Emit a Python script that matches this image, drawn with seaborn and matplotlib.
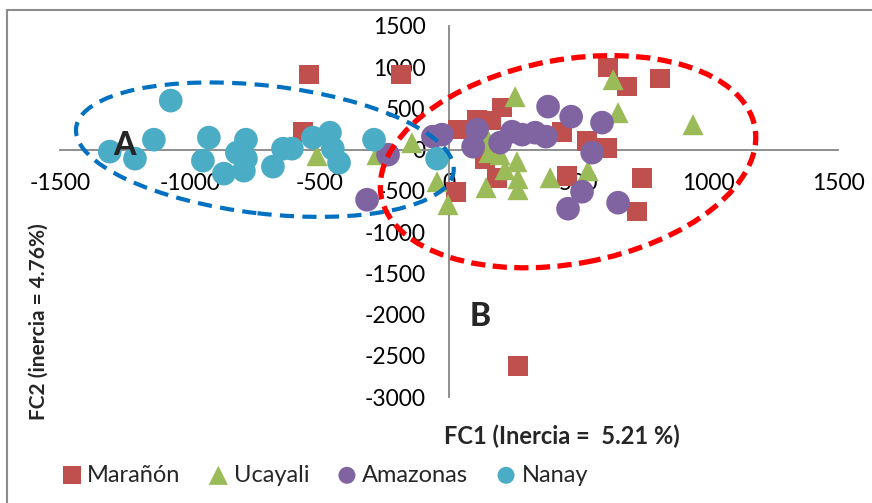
import pandas as pd
import seaborn as sns
import matplotlib.pyplot as plt
from matplotlib.patches import Ellipse
from matplotlib.lines import Line2D
from matplotlib.transforms import ScaledTranslation

# Data (FC1, FC2 scores per river)
maranon_x = [-540, -185, -563, 613, 687, 814, 204, 108, 162, 35, 436, 532, 610, 139, 185, 455, 745, 27, 725, 266]
maranon_y = [910, 910, 218, 995, 765, 862, 510, 364, 352, 243, 218, 109, 24, -121, -340, -316, -340, -510, -752, -2621]

ucayali_x = [-509, -278, -143, -46, -4, 255, 150, 154, 197, 262, 216, 266, 266, 143, 390, 536, 633, 652, 941]
ucayali_y = [-73, -61, 85, -388, -667, 643, 121, -36, -61, -146, -243, -352, -485, -461, -340, -255, 850, 449, 303]

amazonas_x = [-235, -316, -62, -27, 93, 108, 197, 243, 282, 332, 374, 382, 471, 590, 552, 513, 459, 652]
amazonas_y = [-61, -607, 158, 182, 36, 243, 85, 218, 182, 206, 158, 522, 400, 328, -36, -510, -716, -643]

nanay_x = [-1308, -1211, -1138, -1073, -926, -949, -868, -818, -783, -783, -791, -679, -640, -606, -525, -459, -448, -424, -289, -46]
nanay_y = [-24, -109, 121, 595, 146, -133, -291, -36, 121, -109, -255, -206, 12, 12, 146, 206, 12, -158, 121, -109]

rivers = ["Marañón", "Ucayali", "Amazonas", "Nanay"]
colors = {"Marañón": "#C0504D", "Ucayali": "#9BBB59", "Amazonas": "#8064A2", "Nanay": "#4BACC6"}
markers = {"Marañón": "s", "Ucayali": "^", "Amazonas": "o", "Nanay": "o"}
sizes = {"Marañón": 200, "Ucayali": 230, "Amazonas": 290, "Nanay": 290}
legend_sizes = {"Marañón": 170, "Ucayali": 190, "Amazonas": 150, "Nanay": 150}

# Long format table
df = pd.concat([
    pd.DataFrame({"FC1": maranon_x, "FC2": maranon_y, "Rio": "Marañón"}),
    pd.DataFrame({"FC1": ucayali_x, "FC2": ucayali_y, "Rio": "Ucayali"}),
    pd.DataFrame({"FC1": amazonas_x, "FC2": amazonas_y, "Rio": "Amazonas"}),
    pd.DataFrame({"FC1": nanay_x, "FC2": nanay_y, "Rio": "Nanay"}),
], ignore_index=True)

sns.set_style("white")
plt.rcParams['font.family'] = ['Lato', 'DejaVu Sans']
plt.rcParams['axes.unicode_minus'] = False

fig = plt.figure(figsize=(8.72, 5.03), dpi=100)
ax = fig.add_axes([60 / 872, 106 / 503, 778 / 872, 371 / 503])

# One scatter per river so later series sit on top
for rio in rivers:
    sub = df[df["Rio"] == rio]
    sns.scatterplot(data=sub, x="FC1", y="FC2", marker=markers[rio], s=sizes[rio],
                    color=colors[rio], edgecolor="none", linewidth=0, label=rio, ax=ax, zorder=3)

ax.set_xlim(-1500, 1500)
ax.set_ylim(-3000, 1500)
ax.set_xticks(range(-1500, 1501, 500))
ax.set_yticks(range(-3000, 1501, 500))

# Axes crossing at zero, Excel style
for side in ["top", "right"]:
    ax.spines[side].set_visible(False)
for side in ["left", "bottom"]:
    ax.spines[side].set_position("zero")
    ax.spines[side].set_color("#868686")
    ax.spines[side].set_linewidth(1.3)
ax.tick_params(direction="out", length=6, width=1.1, color="#868686", labelsize=16.5, pad=11, labelcolor="black")
ax.set_xlabel("")
ax.set_ylabel("")

# Group ellipses, sized in inches around a data centre
def add_ellipse(cx, cy, w, h, angle, color, lw, dash):
    tr = fig.dpi_scale_trans + ScaledTranslation(cx, cy, ax.transData)
    e = Ellipse((0, 0), w, h, angle=angle, fill=False, edgecolor=color,
                linewidth=lw, linestyle=(0, dash), transform=tr, zorder=5)
    ax.add_patch(e)

add_ellipse(-710, 0, 3.8, 1.28, -6.6, "#0070C0", 3.0, (3.4, 2.0))
add_ellipse(459, -146, 3.8, 2.04, 10.5, "#FF0000", 3.8, (2.7, 1.4))

fig.text(125 / 872, 1 - 146 / 503, "A", fontsize=23, fontweight="black", ha="center", va="center", zorder=6)
fig.text(480 / 872, 1 - 317 / 503, "B", fontsize=23, fontweight="black", ha="center", va="center", zorder=6)

fig.text(562 / 872, 1 - 436 / 503, "FC1 (Inercia =  5.21 %)", fontsize=17, fontweight="bold", ha="center", va="center")
fig.text(39 / 872, 1 - 322 / 503, "FC2 (inercia = 4.76%)", fontsize=15, fontweight="bold", ha="center", va="center", rotation=90)

# Legend along the bottom
leg = ax.legend(loc="center left", bbox_to_anchor=(60 / 872, 1 - 475 / 503), bbox_transform=fig.transFigure,
                ncol=4, frameon=False, fontsize=17, handletextpad=0.15, columnspacing=1.1,
                handlelength=1.0, borderaxespad=0, borderpad=0)
for handle, rio in zip(leg.legend_handles, rivers):
    handle.set_sizes([legend_sizes[rio]])

# Chart frame (top and left edges visible)
fig.add_artist(Line2D([7 / 872, 1], [1 - 10 / 503, 1 - 10 / 503], color="#8C8C8C", linewidth=1.5, transform=fig.transFigure))
fig.add_artist(Line2D([7 / 872, 7 / 872], [0, 1 - 10 / 503], color="#8C8C8C", linewidth=1.5, transform=fig.transFigure))

fig.savefig("out.png", dpi=100)
